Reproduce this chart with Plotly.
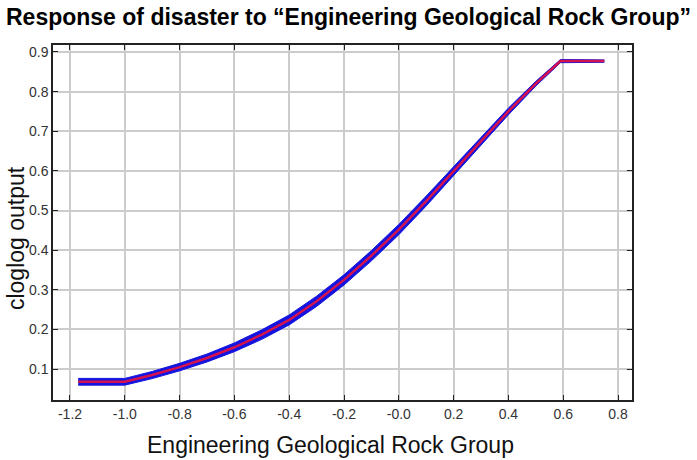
import plotly.graph_objects as go

# Response curve
x_vals = [-1.17, -1.0, -0.9, -0.8, -0.7, -0.6, -0.5, -0.4, -0.3, -0.2, -0.1, 0.0,
          0.1, 0.2, 0.3, 0.4, 0.5, 0.59, 0.75]
y_mean = [0.068, 0.068, 0.085, 0.105, 0.128, 0.155, 0.187, 0.224, 0.271, 0.325,
          0.386, 0.452, 0.524, 0.599, 0.675, 0.750, 0.820, 0.877, 0.877]
# half-width of the blue (uncertainty) band
y_sd = [0.0085, 0.0085, 0.009, 0.0095, 0.010, 0.011, 0.012, 0.0125, 0.013, 0.013,
        0.013, 0.013, 0.0125, 0.0115, 0.010, 0.0085, 0.006, 0.004, 0.003]

x_ticks = [-1.2, -1.0, -0.8, -0.6, -0.4, -0.2, 0.0, 0.2, 0.4, 0.6, 0.8]
x_ticktext = ["-1.2", "-1.0", "-0.8", "-0.6", "-0.4", "-0.2", "-0.0", "0.2", "0.4", "0.6", "0.8"]
y_ticks = [0.1, 0.2, 0.3, 0.4, 0.5, 0.6, 0.7, 0.8, 0.9]
y_ticktext = ["0.1", "0.2", "0.3", "0.4", "0.5", "0.6", "0.7", "0.8", "0.9"]

upper = [m + s for m, s in zip(y_mean, y_sd)]
lower = [m - s for m, s in zip(y_mean, y_sd)]

FONT = "Liberation Sans, Arial, sans-serif"
BLUE = "#1414e0"

fig = go.Figure()
fig.add_trace(go.Scatter(x=x_vals, y=upper, mode="lines",
                         line=dict(color=BLUE, width=1),
                         showlegend=False, hoverinfo="skip"))
fig.add_trace(go.Scatter(x=x_vals, y=lower, mode="lines", fill="tonexty",
                         fillcolor=BLUE,
                         line=dict(color=BLUE, width=1),
                         showlegend=False, hoverinfo="skip"))
fig.add_trace(go.Scatter(x=x_vals, y=y_mean, mode="lines",
                         line=dict(color="#d4124e", width=2.5),
                         showlegend=False))

axis_common = dict(
    showline=True, linecolor="#222222", linewidth=1.5, mirror="all",
    ticks="inside", ticklen=5, tickcolor="#222222", tickwidth=1,
    showgrid=True, gridcolor="#cccccc", gridwidth=1.5, zeroline=False,
    tickfont=dict(family=FONT, size=14, color="#333333"),
)

fig.update_layout(
    width=697, height=460,
    margin=dict(l=53, r=65, t=45, b=60),
    paper_bgcolor="white", plot_bgcolor="white",
    title=dict(text="<b>Response of disaster to “Engineering Geological Rock Group”</b>",
               x=0.5, xanchor="center", y=0.964, yanchor="middle",
               font=dict(family=FONT, size=23, color="black")),
    xaxis=dict(range=[-1.262, 0.851], tickvals=x_ticks, ticktext=x_ticktext, **axis_common),
    yaxis=dict(range=[0.022, 0.9176], tickvals=y_ticks, ticktext=y_ticktext, **axis_common),
    annotations=[
        dict(text="Engineering Geological Rock Group", xref="paper", yref="paper",
             x=0.480, y=-0.128, xanchor="center", yanchor="middle", showarrow=False,
             font=dict(family=FONT, size=23, color="#111111")),
        dict(text="cloglog output", xref="paper", yref="paper", textangle=-90,
             x=-0.064, y=0.456, xanchor="center", yanchor="middle", showarrow=False,
             font=dict(family=FONT, size=23, color="#111111")),
    ],
)

fig.write_html("out.html")
